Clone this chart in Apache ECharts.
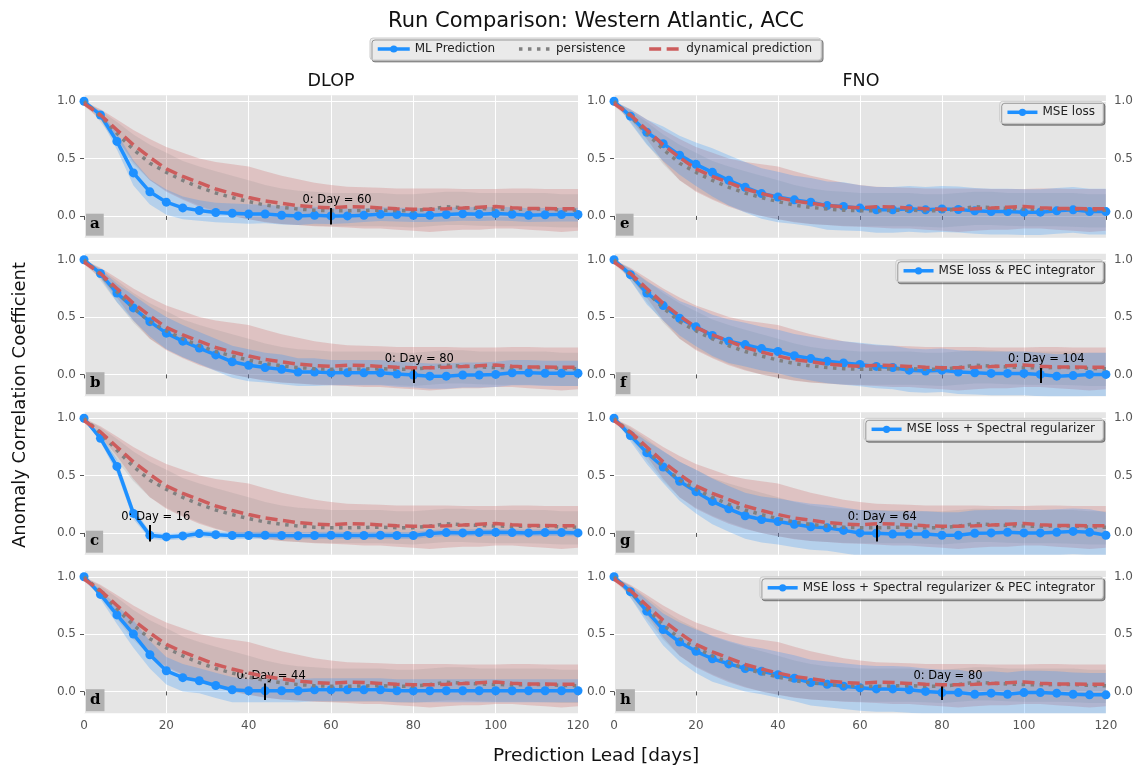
<!DOCTYPE html>
<html>
<head>
<meta charset="utf-8">
<script src="https://cdn.jsdelivr.net/npm/echarts@6/dist/echarts.min.js"></script>
<style>
html, body { margin: 0; padding: 0; background: #fff; }
#main { width: 1136px; height: 766px; }
</style>
</head>
<body>
<div id="main"></div>
<script>
// lead days (markers every 4 days)
var days = [0,4,8,12,16,20,24,28,32,36,40,44,48,52,56,60,64,68,72,76,80,84,88,92,96,100,104,108,112,116,120];

// baselines, same in every panel
var dynMean  = [0.98,0.88,0.75,0.62,0.51,0.41,0.345,0.29,0.235,0.195,0.16,0.13,0.11,0.09,0.078,0.07,0.08,0.078,0.07,0.062,0.058,0.058,0.062,0.068,0.076,0.082,0.072,0.065,0.064,0.063,0.062];
var dynUpper = [1.0,0.93,0.84,0.75,0.67,0.6,0.55,0.5,0.47,0.45,0.43,0.39,0.35,0.32,0.29,0.27,0.255,0.25,0.245,0.24,0.24,0.24,0.24,0.235,0.235,0.235,0.24,0.24,0.235,0.235,0.235];
var dynLower = [0.96,0.84,0.67,0.47,0.31,0.21,0.14,0.08,0.035,0.0,-0.03,-0.055,-0.07,-0.08,-0.09,-0.095,-0.1,-0.11,-0.11,-0.12,-0.13,-0.14,-0.13,-0.12,-0.12,-0.11,-0.11,-0.12,-0.13,-0.14,-0.13];
var persMean  = [1.0,0.87,0.72,0.58,0.46,0.38,0.31,0.25,0.2,0.16,0.125,0.095,0.075,0.06,0.05,0.045,0.045,0.048,0.05,0.045,0.045,0.06,0.08,0.072,0.065,0.06,0.058,0.06,0.06,0.052,0.05];
var persUpper = [1.0,0.92,0.82,0.71,0.62,0.55,0.48,0.43,0.39,0.35,0.31,0.27,0.24,0.22,0.21,0.2,0.2,0.2,0.2,0.19,0.19,0.2,0.21,0.21,0.2,0.2,0.2,0.2,0.2,0.19,0.19];
var persLower = [1.0,0.82,0.63,0.45,0.31,0.22,0.15,0.09,0.04,0.0,-0.03,-0.05,-0.07,-0.08,-0.085,-0.09,-0.09,-0.09,-0.09,-0.095,-0.1,-0.09,-0.08,-0.08,-0.085,-0.09,-0.09,-0.09,-0.095,-0.1,-0.1];

// ML prediction means, DLOP (a-d) and FNO (e-h)
var mlA = [1.0,0.88,0.65,0.375,0.21,0.12,0.07,0.047,0.03,0.023,0.017,0.017,0.006,0.0,0.006,0.0,0.0,0.006,0.015,0.012,0.006,0.006,0.012,0.018,0.015,0.02,0.015,0.006,0.01,0.012,0.012];
var mlB = [1.0,0.88,0.71,0.58,0.46,0.36,0.29,0.23,0.17,0.11,0.08,0.06,0.044,0.02,0.02,0.015,0.015,0.015,0.015,0.003,-0.005,-0.015,-0.015,-0.005,-0.005,0.0,0.015,0.015,0.01,0.01,0.01];
var mlC = [1.0,0.825,0.58,0.17,-0.02,-0.035,-0.026,-0.006,-0.015,-0.023,-0.023,-0.02,-0.023,-0.025,-0.023,-0.02,-0.023,-0.023,-0.02,-0.023,-0.023,-0.006,0.003,0.0,0.003,0.005,0.003,0.0,0.003,0.003,0.0];
var mlD = [1.0,0.846,0.667,0.5,0.32,0.18,0.12,0.093,0.052,0.015,0.006,0.006,0.006,0.006,0.015,0.015,0.015,0.015,0.015,0.006,0.006,0.006,0.006,0.006,0.006,0.006,0.006,0.006,0.006,0.006,0.006];
var mlE = [1.0,0.87,0.73,0.63,0.53,0.45,0.38,0.31,0.25,0.195,0.165,0.14,0.12,0.09,0.083,0.068,0.053,0.053,0.062,0.053,0.06,0.056,0.044,0.038,0.038,0.033,0.033,0.044,0.053,0.038,0.038];
var mlF = [1.0,0.87,0.71,0.6,0.49,0.415,0.34,0.29,0.26,0.225,0.2,0.163,0.138,0.114,0.1,0.086,0.07,0.06,0.037,0.03,0.037,0.02,0.015,0.009,0.009,0.009,0.0,-0.015,-0.01,0.0,0.0];
var mlG = [1.0,0.85,0.7,0.575,0.45,0.36,0.275,0.21,0.15,0.117,0.1,0.076,0.054,0.044,0.022,0.0,-0.003,-0.01,-0.01,-0.01,-0.02,-0.02,-0.003,0.0,0.006,0.0,0.0,0.006,0.013,0.006,-0.02];
var mlH = [1.0,0.87,0.7,0.54,0.43,0.35,0.285,0.24,0.2,0.176,0.145,0.115,0.077,0.062,0.046,0.031,0.022,0.022,0.015,0.0,-0.01,-0.01,-0.025,-0.015,-0.025,-0.01,-0.01,-0.015,-0.025,-0.03,-0.03];

// ML spread (half width of the shaded band)
var spreadA = [0,0.03,0.07,0.11,0.11,0.11,0.1,0.09,0.085,0.085,0.085,0.08,0.08,0.08,0.075,0.07,0.065,0.06,0.06,0.06,0.06,0.06,0.06,0.06,0.06,0.06,0.06,0.06,0.06,0.06,0.06];
var spreadB = [0,0.04,0.08,0.11,0.13,0.14,0.14,0.14,0.14,0.14,0.14,0.13,0.13,0.12,0.12,0.11,0.11,0.11,0.11,0.11,0.11,0.11,0.11,0.11,0.11,0.11,0.11,0.11,0.11,0.11,0.11];
var spreadC = [0,0.03,0.06,0.05,0.03,0.03,0.03,0.03,0.03,0.03,0.03,0.03,0.03,0.03,0.03,0.03,0.03,0.03,0.03,0.03,0.03,0.03,0.03,0.03,0.03,0.03,0.03,0.03,0.03,0.03,0.03];
var spreadD = [0,0.04,0.08,0.12,0.12,0.12,0.12,0.11,0.11,0.11,0.1,0.1,0.1,0.1,0.1,0.1,0.1,0.1,0.1,0.1,0.1,0.1,0.1,0.1,0.1,0.1,0.1,0.1,0.1,0.1,0.1];
var spreadE = [0,0.06,0.11,0.15,0.17,0.19,0.21,0.22,0.22,0.22,0.22,0.21,0.21,0.21,0.21,0.2,0.2,0.2,0.2,0.2,0.2,0.2,0.2,0.2,0.2,0.2,0.2,0.2,0.2,0.2,0.2];
var spreadF = [0,0.05,0.1,0.13,0.15,0.17,0.18,0.19,0.19,0.19,0.19,0.19,0.19,0.19,0.19,0.19,0.19,0.19,0.19,0.19,0.19,0.19,0.19,0.19,0.19,0.19,0.19,0.19,0.19,0.19,0.19];
var spreadG = [0,0.05,0.1,0.14,0.17,0.19,0.2,0.2,0.2,0.2,0.2,0.2,0.2,0.2,0.2,0.2,0.2,0.2,0.2,0.2,0.2,0.2,0.2,0.2,0.2,0.2,0.2,0.2,0.2,0.2,0.2];
var spreadH = [0,0.05,0.1,0.14,0.17,0.19,0.2,0.2,0.2,0.2,0.2,0.2,0.2,0.2,0.2,0.2,0.2,0.2,0.2,0.2,0.2,0.2,0.19,0.19,0.19,0.19,0.19,0.19,0.19,0.19,0.19];

// "0: Day = N" markers (null = none)
var stopDays = [60, 80, 16, 44, null, 104, 64, 80];
var letters = ['a','b','c','d','e','f','g','h'];
var runNames = ['ML Prediction','ML Prediction','ML Prediction','ML Prediction',
  'MSE loss','MSE loss & PEC integrator','MSE loss + Spectral regularizer','MSE loss + Spectral regularizer & PEC integrator'];
var yTicks = [0, 0.5, 1.0];

var mlMeans = [mlA, mlB, mlC, mlD, mlE, mlF, mlG, mlH];
var mlSpreads = [spreadA, spreadB, spreadC, spreadD, spreadE, spreadF, spreadG, spreadH];

var FONT = 'DejaVu Sans';
var BLUE = '#1E90FF', RED = '#CD5C5C', GREY = '#808080';
var colLeft = [84, 614], gridW = 494, gridH = 142.4;
var rowTop = [95.3, 253.8, 412.3, 570.8];

function pairs(ys) { return days.map(function (d, i) { return [d, ys[i]]; }); }

var grids = [], xAxes = [], yAxes = [], series = [], legends = [], graphics = [];

// shaded band drawn as one polygon through the axis scales
function band(gi, yi, lower, upper, color) {
  series.push({
    type: 'custom', xAxisIndex: gi, yAxisIndex: yi, silent: true, z: 1,
    data: days.map(function (d, i) { return [d, lower[i], upper[i]]; }),
    encode: { x: 0, y: [1, 2] },
    renderItem: function (params, api) {
      if (params.dataIndexInside !== 0) return null;
      var n = params.dataInsideLength, top = [], bot = [];
      for (var i = 0; i < n; i++) {
        top.push(api.coord([api.value(0, i), api.value(2, i)]));
        bot.push(api.coord([api.value(0, i), api.value(1, i)]));
      }
      var cs = params.coordSys;
      return {
        type: 'polygon', shape: { points: top.concat(bot.reverse()) }, style: { fill: color },
        clipPath: { type: 'rect', shape: { x: cs.x, y: cs.y, width: cs.width, height: cs.height } }
      };
    }
  });
}

var tickLabel = { color: '#555', fontSize: 12, fontFamily: FONT };

for (var p = 0; p < 8; p++) {
  var col = p < 4 ? 0 : 1, row = p % 4;
  grids.push({ left: colLeft[col], top: rowTop[row], width: gridW, height: gridH,
    show: true, backgroundColor: '#E5E5E5', borderWidth: 0 });
  xAxes.push({ gridIndex: p, type: 'value', min: 0, max: 120, interval: 20,
    axisLine: { show: false },
    axisTick: { show: true, length: 4, lineStyle: { color: '#555' } },
    axisLabel: Object.assign({ show: row === 3, margin: 7 }, tickLabel),
    splitLine: { show: true, lineStyle: { color: '#fff', width: 1 } } });
  var yi = yAxes.length;
  yAxes.push({ gridIndex: p, type: 'value', min: -0.19, max: 1.052,
    axisLine: { show: false },
    axisTick: { show: true, length: 4, customValues: yTicks, lineStyle: { color: '#555' } },
    axisLabel: Object.assign({ customValues: yTicks, margin: 8,
      formatter: function (v) { return v.toFixed(1); } }, tickLabel),
    splitLine: { show: true, lineStyle: { color: '#fff', width: 1 } } });
  if (col === 1) {
    yAxes.push({ gridIndex: p, type: 'value', position: 'right', min: -0.19, max: 1.052,
      axisLine: { show: false }, axisTick: { show: false }, splitLine: { show: false },
      axisLabel: Object.assign({ customValues: yTicks, margin: 8,
        formatter: function (v) { return v.toFixed(1); } }, tickLabel) });
  }

  var ml = mlMeans[p], sp = mlSpreads[p];
  var mlLo = ml.map(function (v, i) { return v - sp[i]; });
  var mlHi = ml.map(function (v, i) { return v + sp[i]; });
  band(p, yi, dynLower, dynUpper, 'rgba(205,92,92,0.25)');
  band(p, yi, persLower, persUpper, 'rgba(128,128,128,0.17)');
  band(p, yi, mlLo, mlHi, 'rgba(30,144,255,0.24)');

  var mlSeries = { name: runNames[p], type: 'line', xAxisIndex: p, yAxisIndex: yi,
    data: pairs(ml), symbol: 'circle', symbolSize: 9, showAllSymbol: true,
    lineStyle: { color: BLUE, width: 3.5 }, itemStyle: { color: BLUE }, z: 3 };
  if (stopDays[p] !== null) {
    mlSeries.markLine = { silent: true, symbol: 'none', animation: false,
      lineStyle: { color: '#000', width: 2, type: 'solid' }, label: { show: false },
      data: [[{ coord: [stopDays[p], -0.075] }, { coord: [stopDays[p], 0.07] }]] };
    mlSeries.markPoint = { silent: true, symbol: 'circle', symbolSize: 0,
      label: { show: true, position: 'inside', offset: [6, 0], color: '#000', fontSize: 11.5, fontFamily: FONT,
        formatter: '0: Day = ' + stopDays[p] },
      data: [{ coord: [stopDays[p], 0.135] }] };
  }
  series.push(mlSeries);
  series.push({ name: 'persistence', type: 'line', xAxisIndex: p, yAxisIndex: yi, data: pairs(persMean),
    symbol: 'none', lineStyle: { color: GREY, width: 3.5, type: [3.5, 5.5], cap: 'butt' }, itemStyle: { color: GREY }, z: 4 });
  series.push({ name: 'dynamical prediction', type: 'line', xAxisIndex: p, yAxisIndex: yi, data: pairs(dynMean),
    symbol: 'none', lineStyle: { color: RED, width: 3.5, type: [12, 5.5], cap: 'butt' }, itemStyle: { color: RED }, z: 5 });

  if (col === 1) {
    legends.push({ data: [runNames[p]], right: 33, top: rowTop[row] + 6, selectedMode: false,
      itemWidth: 30, itemHeight: 9, padding: [5, 8, 5, 6], lineStyle: { width: 3.5 },
      backgroundColor: '#eaeaea', borderColor: '#cccccc', borderWidth: 1, borderRadius: 3,
      shadowColor: 'rgba(0,0,0,0.35)', shadowOffsetX: 2, shadowOffsetY: 2, shadowBlur: 0,
      textStyle: { fontSize: 12, color: '#222', fontFamily: FONT } });
  }

  graphics.push({ type: 'text', left: colLeft[col] + 2, top: rowTop[row] + gridH - 24, z: 10,
    style: { text: letters[p], font: 'bold 15px "DejaVu Serif"', fill: '#000',
      backgroundColor: '#b0b0b0', padding: [3, 4, 4, 4] } });
}

legends.unshift({ data: [
    'ML Prediction',
    { name: 'persistence', itemStyle: { opacity: 0 } },
    { name: 'dynamical prediction', itemStyle: { opacity: 0 } }
  ], left: 370, top: 38,
  selectedMode: false, itemGap: 22, itemWidth: 32, itemHeight: 9, padding: [5, 9, 5, 6], lineStyle: { width: 3.5 },
  backgroundColor: '#eaeaea', borderColor: '#cccccc', borderWidth: 1, borderRadius: 3,
  shadowColor: 'rgba(0,0,0,0.35)', shadowOffsetX: 2, shadowOffsetY: 2, shadowBlur: 0,
  textStyle: { fontSize: 12, color: '#222', fontFamily: FONT } });

graphics.push(
  { type: 'text', x: 596, y: 22, style: { text: 'Run Comparison: Western Atlantic, ACC', font: '21px "DejaVu Sans"', fill: '#111', align: 'center', verticalAlign: 'middle' } },
  { type: 'text', x: 331, y: 81, style: { text: 'DLOP', font: '17.5px "DejaVu Sans"', fill: '#111', align: 'center', verticalAlign: 'middle' } },
  { type: 'text', x: 861, y: 81, style: { text: 'FNO', font: '17.5px "DejaVu Sans"', fill: '#111', align: 'center', verticalAlign: 'middle' } },
  { type: 'text', x: 596, y: 756, style: { text: 'Prediction Lead [days]', font: '18.5px "DejaVu Sans"', fill: '#111', align: 'center', verticalAlign: 'middle' } },
  { type: 'text', x: 20, y: 405, rotation: Math.PI / 2, style: { text: 'Anomaly Correlation Coefficient', font: '18px "DejaVu Sans"', fill: '#111', align: 'center', verticalAlign: 'middle' } }
);

var myChart = echarts.init(document.getElementById('main'));
myChart.setOption({
  animation: false,
  textStyle: { fontFamily: FONT },
  grid: grids,
  xAxis: xAxes,
  yAxis: yAxes,
  legend: legends,
  graphic: graphics,
  series: series
});
</script>
</body>
</html>
